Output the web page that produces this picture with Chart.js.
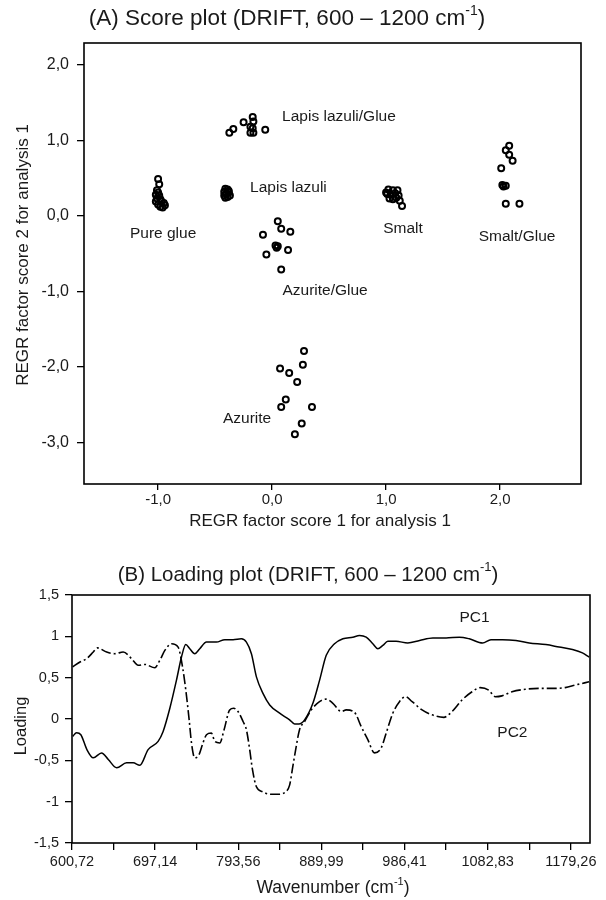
<!DOCTYPE html>
<html>
<head>
<meta charset="utf-8">
<script src="https://cdn.jsdelivr.net/npm/chart.js@4.4.1/dist/chart.umd.min.js"></script>
<style>
  html, body { margin: 0; padding: 0; background: #fff; }
  #wrap { position: relative; width: 606px; height: 900px; }
  canvas { position: absolute; left: 0; }
  #scoreChart { top: 0; }
  #loadingChart { top: 540px; }
</style>
</head>
<body>
<div id="wrap">
  <canvas id="scoreChart" width="606" height="540"></canvas>
  <canvas id="loadingChart" width="606" height="360"></canvas>
</div>
<script>
// (A) score plot - REGR factor score 1 (x) / score 2 (y), per sample group
const pureGlueX = [-1.00, -0.99, -1.01, -1.00, -1.02, -0.99, -1.01, -0.98, -1.02, -0.97, -1.00, -0.95, -0.98, -0.94, -0.96];
const pureGlueY = [0.49, 0.42, 0.34, 0.31, 0.28, 0.27, 0.23, 0.22, 0.19, 0.19, 0.15, 0.17, 0.12, 0.14, 0.11];

const lapisX = [-0.41, -0.39, -0.42, -0.38, -0.40, -0.42, -0.37, -0.39, -0.41, -0.38];
const lapisY = [0.36, 0.35, 0.32, 0.31, 0.29, 0.27, 0.27, 0.25, 0.24, 0.33];

const lapisGlueX = [-0.375, -0.34, -0.25, -0.17, -0.164, -0.19, -0.17, -0.19, -0.164, -0.06];
const lapisGlueY = [1.10, 1.15, 1.24, 1.31, 1.25, 1.18, 1.16, 1.10, 1.10, 1.14];

const smaltX = [1.02, 1.06, 1.10, 1.01, 1.04, 1.08, 1.11, 1.03, 1.06, 1.09, 1.12, 1.00, 1.14];
const smaltY = [0.35, 0.34, 0.34, 0.29, 0.28, 0.30, 0.27, 0.23, 0.22, 0.24, 0.20, 0.31, 0.13];

const smaltGlueX = [2.08, 2.05, 2.08, 2.11, 2.01, 2.02, 2.05, 2.03, 2.05, 2.17];
const smaltGlueY = [0.93, 0.87, 0.81, 0.73, 0.63, 0.41, 0.40, 0.39, 0.16, 0.16];

const azuriteGlueX = [0.05, 0.08, 0.16, -0.08, 0.03, 0.05, 0.04, 0.14, -0.05, 0.08];
const azuriteGlueY = [-0.07, -0.17, -0.21, -0.25, -0.39, -0.40, -0.42, -0.45, -0.51, -0.71];

const azuriteX = [0.28, 0.27, 0.07, 0.15, 0.22, 0.12, 0.08, 0.35, 0.26, 0.20];
const azuriteY = [-1.79, -1.97, -2.02, -2.08, -2.20, -2.43, -2.53, -2.53, -2.75, -2.89];

const scoreXTicks = [-1, 0, 1, 2];
const scoreYTicks = [-3, -2, -1, 0, 1, 2];

// (B) loading plot - wavenumber (cm-1) and loading value
const pc1Wn = [601.5, 606, 611, 618, 625.4, 635, 642.8, 652.5, 664, 671.7, 679.4, 689, 700.6, 706.4, 714.2, 721.9,
  727.7, 732.7, 737.3, 743.1, 748.9, 756.7, 768.2, 777.9, 787.5, 797.2, 803, 808.8, 814.6, 822.2, 830, 841.5,
  853.1, 858.9, 863.9, 870.5, 880.1, 887.9, 895.6, 905.2, 914.9, 926.4, 934.2, 941.9, 949.6, 955.4, 961.2, 967,
  976.6, 990.1, 1003.9, 1019.2, 1034.6, 1050, 1061.5, 1076.9, 1086.6, 1100, 1115.6, 1131, 1150.3, 1165.7, 1181.2,
  1192.7, 1200.4];
const pc1Val = [-0.21, -0.165, -0.19, -0.37, -0.47, -0.41, -0.49, -0.59, -0.53, -0.53, -0.56, -0.37, -0.27, -0.15, 0.13, 0.47,
  0.75, 0.90, 0.85, 0.79, 0.85, 0.93, 0.93, 0.96, 0.96, 0.97, 0.93, 0.79, 0.51, 0.31, 0.17, 0.07,
  -0.01, -0.06, -0.06, -0.01, 0.19, 0.47, 0.77, 0.91, 0.97, 0.99, 1.01, 0.99, 0.91, 0.85, 0.89, 0.94,
  0.94, 0.92, 0.95, 0.98, 0.98, 0.99, 0.97, 0.92, 0.96, 0.96, 0.95, 0.92, 0.90, 0.87, 0.84,
  0.80, 0.75];

const pc2Wn = [601.5, 610, 617.7, 625.4, 630, 640.9, 650.5, 660.1, 669.8, 677.5, 685.2, 696.8, 702.6, 708.4, 716.1, 723.8,
  728.9, 732.7, 736.6, 739.3, 743.1, 748.1, 752, 756.7, 762.4, 766.3, 772.1, 777.1, 783.6, 788.3, 793.3, 799.1,
  803, 806.8, 810, 814.6, 821.9, 830.8, 839.8, 848.7, 853.1, 856.9, 860.8, 864.6, 870.5, 878.2, 887.8, 895.6,
  903.3, 913, 918.8, 928.4, 936.1, 943.8, 951.6, 959.3, 965.1, 972.8, 980.5, 987.5, 995.2, 1006.7, 1018.3,
  1031.9, 1041.5, 1053.1, 1064.7, 1074.3, 1084, 1091.7, 1099.4, 1111, 1126.4, 1141.9, 1157.3, 1172.7, 1184.3, 1200.4];
const pc2Val = [0.63, 0.69, 0.73, 0.81, 0.86, 0.81, 0.79, 0.81, 0.73, 0.65, 0.66, 0.62, 0.71, 0.83, 0.91, 0.87,
  0.63, 0.35, -0.01, -0.29, -0.47, -0.43, -0.31, -0.19, -0.17, -0.27, -0.29, -0.13, 0.11, 0.13, 0.09, -0.03,
  -0.13, -0.37, -0.61, -0.82, -0.88, -0.91, -0.91, -0.88, -0.80, -0.57, -0.33, -0.13, -0.03, 0.11, 0.21, 0.24,
  0.19, 0.09, 0.11, 0.08, -0.09, -0.25, -0.41, -0.35, -0.17, 0.07, 0.21, 0.27, 0.21, 0.11, 0.05,
  0.02, 0.09, 0.23, 0.33, 0.38, 0.35, 0.27, 0.28, 0.33, 0.36, 0.37, 0.37, 0.38, 0.41, 0.45];

const wnMajorTicks = [600.72, 697.14, 793.56, 889.99, 986.41, 1082.83, 1179.26];
const loadingYTicks = [-1.5, -1, -0.5, 0, 0.5, 1, 1.5];

// text labels placed inside the plots (data units)
const scoreLabels = [
  { text: 'Pure glue', x: -0.956, y: -0.24, align: 'center' },
  { text: 'Lapis lazuli', x: -0.193, y: 0.37, align: 'left' },
  { text: 'Lapis lazuli/Glue', x: 0.088, y: 1.31, align: 'left' },
  { text: 'Smalt', x: 1.149, y: -0.17, align: 'center' },
  { text: 'Smalt/Glue', x: 2.149, y: -0.28, align: 'center' },
  { text: 'Azurite/Glue', x: 0.465, y: -0.99, align: 'center' },
  { text: 'Azurite', x: -0.219, y: -2.68, align: 'center' }
];
const loadingLabels = [
  { text: 'PC1', x: 1067.5, y: 1.22, align: 'center' },
  { text: 'PC2', x: 1111.5, y: -0.17, align: 'center' }
];

const FONT = '"Liberation Sans", Arial, sans-serif';
const INK = '#1a1a1a';

function pts(xs, ys) {
  return xs.map((x, i) => ({ x: x, y: ys[i] }));
}

function commaNum(v, digits) {
  if (Math.abs(v) < 1e-9) v = 0;
  const s = digits == null ? String(v) : v.toFixed(digits);
  return s.replace('.', ',');
}

// text with a "-1" superscript, centred on cx
function drawSupText(ctx, head, sup, tail, cx, cy, size) {
  const mainFont = size + 'px ' + FONT;
  const supFont = Math.round(size * 0.62) + 'px ' + FONT;
  ctx.font = mainFont;
  const w1 = ctx.measureText(head).width;
  const w3 = ctx.measureText(tail).width;
  ctx.font = supFont;
  const w2 = ctx.measureText(sup).width;
  let x = cx - (w1 + w2 + w3) / 2;
  ctx.textAlign = 'left';
  ctx.textBaseline = 'middle';
  ctx.font = mainFont;
  ctx.fillText(head, x, cy);
  x += w1;
  ctx.font = supFont;
  ctx.fillText(sup, x, cy - size * 0.36);
  x += w2;
  ctx.font = mainFont;
  ctx.fillText(tail, x, cy);
}

function drawLabels(chart, labels, size) {
  const ctx = chart.ctx;
  ctx.save();
  ctx.fillStyle = INK;
  ctx.font = size + 'px ' + FONT;
  ctx.textBaseline = 'middle';
  labels.forEach(l => {
    ctx.textAlign = l.align;
    ctx.fillText(l.text, chart.scales.x.getPixelForValue(l.x), chart.scales.y.getPixelForValue(l.y));
  });
  ctx.restore();
}

const framePlugin = {
  id: 'frame',
  afterDatasetsDraw(chart) {
    const a = chart.chartArea;
    const ctx = chart.ctx;
    ctx.save();
    ctx.strokeStyle = '#000';
    ctx.lineWidth = 1.6;
    ctx.strokeRect(a.left, a.top, a.right - a.left, a.bottom - a.top);
    ctx.restore();
  }
};

function axisOpts(min, max, tickValues, fmt, fontSize, tickLen, pad, fixedSize, horizontal) {
  return {
    type: 'linear',
    min: min,
    max: max,
    afterBuildTicks: s => { s.ticks = tickValues.map(v => ({ value: v })); },
    afterFit: s => { if (horizontal) s.height = fixedSize; else s.width = fixedSize; },
    ticks: {
      callback: fmt,
      autoSkip: false,
      maxRotation: 0,
      color: INK,
      padding: pad,
      font: { family: FONT, size: fontSize }
    },
    grid: { drawOnChartArea: false, drawTicks: true, tickLength: tickLen, color: '#000', lineWidth: 1.3 },
    border: { display: false }
  };
}

// ---------- (A) Score plot ----------
const dotStyle = {
  pointRadius: 3,
  pointBorderWidth: 2,
  pointBorderColor: '#000',
  pointBackgroundColor: 'rgba(0,0,0,0)',
  showLine: false
};
const groups = [
  ['Pure glue', pureGlueX, pureGlueY],
  ['Lapis lazuli', lapisX, lapisY],
  ['Lapis lazuli/Glue', lapisGlueX, lapisGlueY],
  ['Smalt', smaltX, smaltY],
  ['Smalt/Glue', smaltGlueX, smaltGlueY],
  ['Azurite/Glue', azuriteGlueX, azuriteGlueY],
  ['Azurite', azuriteX, azuriteY]
];

new Chart(document.getElementById('scoreChart'), {
  type: 'scatter',
  data: {
    datasets: groups.map(g => Object.assign({ label: g[0], data: pts(g[1], g[2]) }, dotStyle))
  },
  options: {
    responsive: false,
    animation: false,
    devicePixelRatio: 1,
    layout: { padding: { top: 43, right: 25, bottom: 0, left: 0 } },
    plugins: { legend: { display: false }, tooltip: { enabled: false } },
    scales: {
      x: axisOpts(-1.65, 2.71, scoreXTicks, v => commaNum(v, 1), 15, 6, 1, 56, true),
      y: axisOpts(-3.55, 2.29, scoreYTicks, v => commaNum(v, 1), 16, 7, 8, 84, false)
    }
  },
  plugins: [framePlugin, {
    id: 'scoreText',
    afterDraw(chart) {
      const ctx = chart.ctx;
      ctx.save();
      ctx.fillStyle = INK;
      drawSupText(ctx, '(A) Score plot (DRIFT, 600 \u2013 1200 cm', '-1', ')', 287, 19, 22.5);
      ctx.font = '17px ' + FONT;
      ctx.textAlign = 'center';
      ctx.textBaseline = 'middle';
      ctx.fillText('REGR factor score 1 for analysis 1', 320, 521);
      ctx.translate(23, 255);
      ctx.rotate(-Math.PI / 2);
      ctx.fillText('REGR factor score 2 for analysis 1', 0, 0);
      ctx.restore();
      drawLabels(chart, scoreLabels, 15.5);
    }
  }]
});

// ---------- (B) Loading plot ----------
const wnAllTicks = [];
wnMajorTicks.forEach((t, i) => {
  wnAllTicks.push(t);
  if (i < wnMajorTicks.length - 1) wnAllTicks.push((t + wnMajorTicks[i + 1]) / 2);
});

new Chart(document.getElementById('loadingChart'), {
  type: 'line',
  data: {
    datasets: [
      {
        label: 'PC1',
        data: pts(pc1Wn, pc1Val),
        borderColor: '#000',
        borderWidth: 1.5,
        pointRadius: 0,
        cubicInterpolationMode: 'monotone',
        fill: false
      },
      {
        label: 'PC2',
        data: pts(pc2Wn, pc2Val),
        borderColor: '#000',
        borderWidth: 1.6,
        borderDash: [10, 3, 2, 3],
        pointRadius: 0,
        cubicInterpolationMode: 'monotone',
        fill: false
      }
    ]
  },
  options: {
    responsive: false,
    animation: false,
    devicePixelRatio: 1,
    layout: { padding: { top: 55, right: 16, bottom: 0, left: 0 } },
    plugins: { legend: { display: false }, tooltip: { enabled: false } },
    scales: {
      x: axisOpts(600.72, 1201.5, wnAllTicks,
        (v) => wnMajorTicks.some(t => Math.abs(t - v) < 0.01) ? commaNum(v, 2) : '',
        14.5, 7, 3, 57, true),
      y: axisOpts(-1.5, 1.5, loadingYTicks, v => commaNum(v), 14.5, 7, 6, 72, false)
    }
  },
  plugins: [framePlugin, {
    id: 'loadingText',
    afterDraw(chart) {
      const ctx = chart.ctx;
      ctx.save();
      ctx.fillStyle = INK;
      drawSupText(ctx, '(B) Loading plot (DRIFT, 600 \u2013 1200 cm', '-1', ')', 308, 35, 20.5);
      drawSupText(ctx, 'Wavenumber (cm', '-1', ')', 333, 348, 17.5);
      ctx.font = '16.5px ' + FONT;
      ctx.textAlign = 'center';
      ctx.textBaseline = 'middle';
      ctx.translate(21, 186);
      ctx.rotate(-Math.PI / 2);
      ctx.fillText('Loading', 0, 0);
      ctx.restore();
      drawLabels(chart, loadingLabels, 15.5);
    }
  }]
});
</script>
</body>
</html>
